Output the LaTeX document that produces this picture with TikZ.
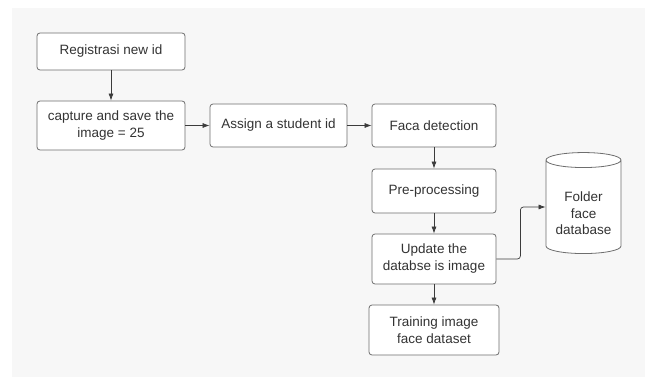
\documentclass[tikz,border=0pt]{standalone}
\usepackage{fontspec}
\setmainfont{Liberation Sans}
\usepackage{xcolor}
\usetikzlibrary{shapes.geometric, arrows.meta}

\definecolor{bgcol}{RGB}{247,247,247}
\definecolor{edgecol}{RGB}{110,110,110}
\definecolor{txtcol}{RGB}{51,51,51}
\definecolor{arrcol}{RGB}{60,60,60}

\begin{document}
\begin{tikzpicture}[
  x=1pt, y=-1pt,
  box/.style={draw=edgecol, fill=white, line width=0.8pt, rounded corners=3pt, minimum width=148pt, minimum height=44pt, font=\fontsize{13.5}{17}\selectfont, text=txtcol, align=center, inner sep=2pt},
  arrow/.style={-{Latex[length=7pt, width=5pt]}, line width=0.7pt, arrcol}
]
\useasboundingbox (0,0) rectangle (647,377);
\fill[bgcol] (12,8) rectangle (645,377);

\node[box, minimum height=37pt] (reg) at (111,51.5) {Registrasi new id};
\node[box, minimum height=49pt] (cap) at (111,125.5) {capture and save the\\image = 25};
\node[box, minimum width=137pt, minimum height=43pt] (assign) at (278.5,125.5) {Assign a student id};
\node[box, minimum width=124pt, minimum height=43pt] (detect) at (434,125.5) {Faca detection};
\node[box, minimum width=124pt] (prep) at (434,191) {Pre-processing};
\node[box, minimum width=124pt, minimum height=50pt] (update) at (434,259) {Update the\\databse is image};
\node[box, minimum width=130pt, minimum height=50pt] (train) at (434,330) {Training image\\face dataset};
\node[draw=edgecol, fill=white, line width=0.8pt, cylinder, shape border rotate=90, aspect=0.27, minimum width=75pt, minimum height=101pt, inner sep=0pt, font=\fontsize{13.5}{16.5}\selectfont, text=txtcol, align=center] (folder) at (583.5,207) {\\[6pt]Folder\\face\\database};

\draw[arrow] (reg) -- (cap);
\draw[arrow] (cap) -- (assign);
\draw[arrow] (assign) -- (detect);
\draw[arrow] (detect) -- (prep);
\draw[arrow] (prep) -- (update);
\draw[arrow] (update) -- (train);
\draw[arrow, rounded corners=3pt] (update.east) -- ++(24,0) |- (folder.west);
\end{tikzpicture}
\end{document}
